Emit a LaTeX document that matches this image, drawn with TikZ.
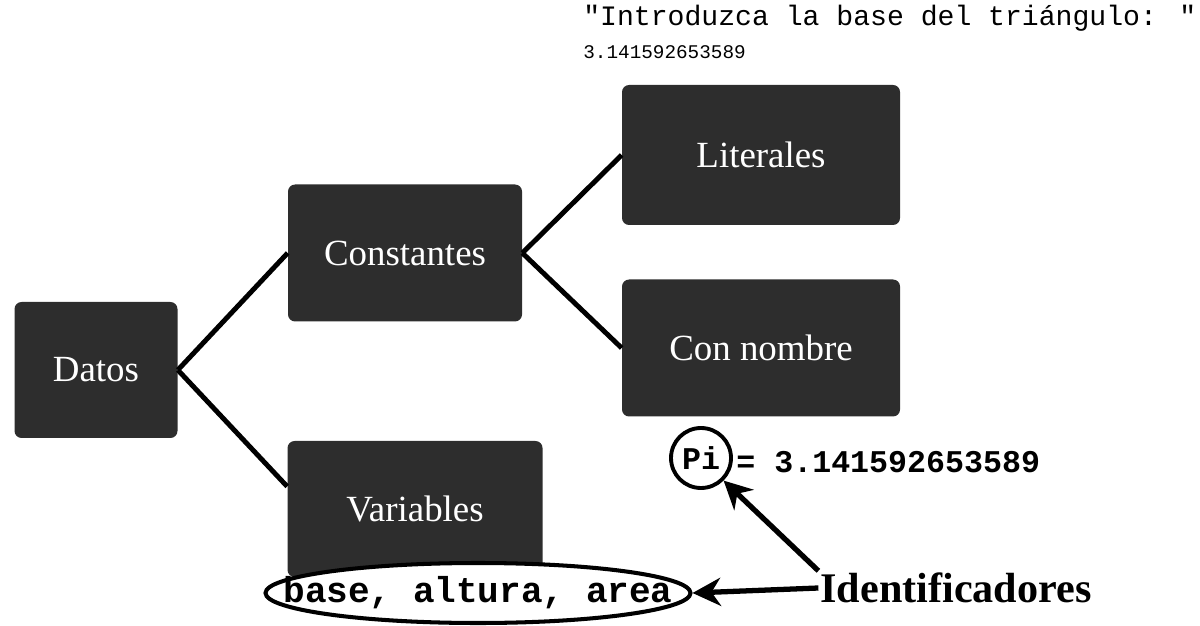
\documentclass[tikz,border=0pt]{standalone}
\usepackage{fontspec}
\setmainfont{Liberation Serif}
\newfontfamily\codefont{Liberation Mono}
\usetikzlibrary{arrows.meta,positioning,shapes.geometric}
\definecolor{boxgray}{RGB}{45,45,45}

\begin{document}
\begin{tikzpicture}[>=Stealth,
  databox/.style={fill=boxgray,rounded corners=4pt,text=white,font=\fontsize{21}{24}\selectfont,inner sep=0pt},
  link/.style={line width=2.8pt},
  pointer/.style={line width=3pt,-{Stealth[length=16pt,width=16pt]}},
  code/.style={font=\codefont\bfseries\fontsize{18}{20}\selectfont,inner sep=0pt}]
\useasboundingbox (0,0) rectangle (24,12.5);
\node[databox,minimum width=3.26cm,minimum height=2.72cm] (datos) at (1.92,5.10) {Datos};
\node[databox,minimum width=4.68cm,minimum height=2.74cm] (const) at (8.10,7.44) {Constantes};
\node[databox,minimum width=5.10cm,minimum height=2.72cm] (vars) at (8.30,2.32) {Variables};
\node[databox,minimum width=5.56cm,minimum height=2.80cm] (lit) at (15.22,9.40) {Literales};
\node[databox,minimum width=5.56cm,minimum height=2.74cm] (connom) at (15.22,5.54) {Con nombre};
\draw[link] (datos.east)--(const.west);
\draw[link] (datos.east)--(vars.170);
\draw[link] (const.east)--(lit.west);
\draw[link] (const.east)--(connom.west);
% console text
\node[anchor=west,font=\codefont\fontsize{16}{18}\selectfont,inner sep=0pt] (prompt) at (11.66,12.14) {"Introduzca la base del triángulo: "};
\node[anchor=west,font=\codefont\fontsize{11}{13}\selectfont,inner sep=0pt] (valor) at (11.66,11.46) {3.141592653589};
% identifiers
\node[ellipse,draw,line width=2.3pt,minimum width=8.5cm,minimum height=1.2cm,inner sep=0pt,fill=white] (ids) at (9.56,0.64) {};
\node[code,font=\codefont\bfseries\fontsize{20.5}{22}\selectfont] (idstext) at (ids.center) {base, altura, area};
\node[code,circle,draw,line width=2.2pt,minimum size=1.2cm] (pi) at (14.02,3.34) {Pi};
\node[code,anchor=west] (pival) at (14.72,3.26) {= 3.141592653589};
\node[font=\bfseries\fontsize{24}{26}\selectfont,inner sep=1pt] (ident) at (19.12,0.74) {Identificadores};
\draw[pointer] (ident.west)--(ids.east);
\draw[pointer] (ident.north west)--(pi.south east);
\end{tikzpicture}
\end{document}
